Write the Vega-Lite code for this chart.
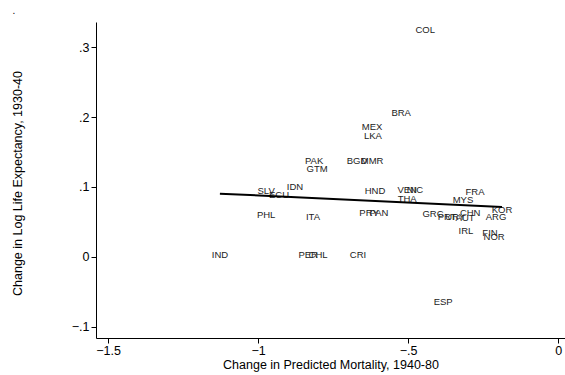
{
  "$schema": "https://vega.github.io/schema/vega-lite/v6.json",
  "autosize": {"type": "none"},
  "padding": {"left": 96, "top": 22, "right": 0, "bottom": 37},
  "width": 469,
  "height": 316,
  "background": "white",
  "config": {
    "view": {"stroke": null},
    "font": "Liberation Sans",
    "axis": {"grid": false, "domainColor": "black", "tickColor": "black", "labelColor": "black", "titleColor": "black", "labelFont": "Liberation Sans", "titleFont": "Liberation Sans", "labelFontSize": 12.5, "titleFontSize": 12.5, "titleFontWeight": "normal", "tickSize": 5, "domainWidth": 1, "tickWidth": 1}
  },
  "title": {"text": ".", "anchor": "start", "fontSize": 10, "fontWeight": "normal", "offset": 6, "dx": 1, "color": "black"},
  "datasets": {
    "pts": [
      {"code": "COL", "x": -0.443, "y": 0.324},
      {"code": "BRA", "x": -0.523, "y": 0.206},
      {"code": "MEX", "x": -0.620, "y": 0.186},
      {"code": "LKA", "x": -0.617, "y": 0.173},
      {"code": "PAK", "x": -0.813, "y": 0.137},
      {"code": "GTM", "x": -0.803, "y": 0.126},
      {"code": "BGD", "x": -0.670, "y": 0.137},
      {"code": "MMR", "x": -0.620, "y": 0.137},
      {"code": "IDN", "x": -0.877, "y": 0.100},
      {"code": "SLV", "x": -0.973, "y": 0.094},
      {"code": "ECU", "x": -0.930, "y": 0.089},
      {"code": "HND", "x": -0.610, "y": 0.094},
      {"code": "VEN", "x": -0.503, "y": 0.096},
      {"code": "NIC", "x": -0.477, "y": 0.096},
      {"code": "THA", "x": -0.503, "y": 0.083},
      {"code": "FRA", "x": -0.277, "y": 0.093},
      {"code": "MYS", "x": -0.317, "y": 0.081},
      {"code": "PHL", "x": -0.973, "y": 0.060},
      {"code": "ITA", "x": -0.817, "y": 0.057},
      {"code": "PRY", "x": -0.630, "y": 0.063},
      {"code": "PAN", "x": -0.597, "y": 0.063},
      {"code": "GRC", "x": -0.417, "y": 0.061},
      {"code": "PRT", "x": -0.370, "y": 0.057},
      {"code": "URY", "x": -0.343, "y": 0.057},
      {"code": "AUT", "x": -0.310, "y": 0.056},
      {"code": "CHN", "x": -0.293, "y": 0.063},
      {"code": "KOR", "x": -0.187, "y": 0.067},
      {"code": "ARG", "x": -0.207, "y": 0.057},
      {"code": "IRL", "x": -0.307, "y": 0.037},
      {"code": "FIN", "x": -0.227, "y": 0.034},
      {"code": "NOR", "x": -0.213, "y": 0.029},
      {"code": "IND", "x": -1.127, "y": 0.003},
      {"code": "PER", "x": -0.833, "y": 0.003},
      {"code": "CHL", "x": -0.800, "y": 0.003},
      {"code": "CRI", "x": -0.667, "y": 0.003},
      {"code": "ESP", "x": -0.383, "y": -0.064}
    ],
    "fit": [
      {"x": -1.127, "y": 0.0905},
      {"x": -0.187, "y": 0.0714}
    ]
  },
  "layer": [
    {
      "data": {"name": "pts"},
      "mark": {"type": "text", "fontSize": 9.5, "font": "Liberation Sans", "color": "#222", "align": "center", "baseline": "middle"},
      "encoding": {
        "x": {"field": "x", "type": "quantitative", "scale": {"domain": [-1.54, 0.023], "nice": false, "zero": false},
          "axis": {"values": [-1.5, -1, -0.5, 0], "title": "Change in Predicted Mortality, 1940-80", "labelExpr": "datum.value == 0 ? '0' : replace(format(datum.value, '.1~f'), '0.', '.')", "labelPadding": 1, "titleY": 26.5, "titleBaseline": "middle"}},
        "y": {"field": "y", "type": "quantitative", "scale": {"domain": [-0.116, 0.336], "nice": false, "zero": false},
          "axis": {"values": [-0.1, 0, 0.1, 0.2, 0.3], "title": "Change in Log Life Expectancy, 1930-40", "labelExpr": "datum.value == 0 ? '0' : replace(format(datum.value, '.1~f'), '0.', '.')", "labelPadding": 2, "titleX": -78.5, "titleY": 161, "titleBaseline": "middle", "titleAlign": "center"}},
        "text": {"field": "code", "type": "nominal"}
      }
    },
    {
      "data": {"name": "fit"},
      "mark": {"type": "line", "color": "black", "strokeWidth": 2},
      "encoding": {
        "x": {"field": "x", "type": "quantitative"},
        "y": {"field": "y", "type": "quantitative"}
      }
    }
  ]
}
